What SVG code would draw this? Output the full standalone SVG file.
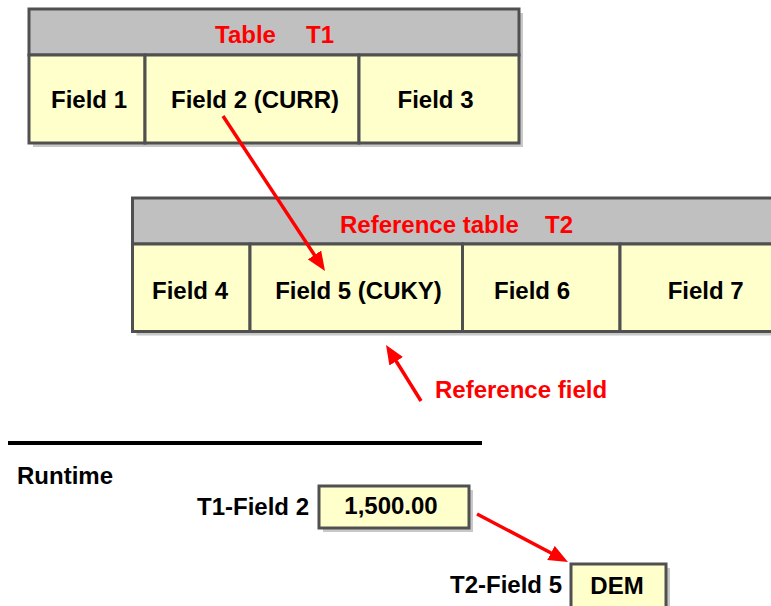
<svg xmlns="http://www.w3.org/2000/svg" width="771" height="606" viewBox="0 0 771 606">
  <style>
    .shadow { fill: #C8C8C8; }
    .hdr { fill: #C0C0C0; stroke: #505050; stroke-width: 3; }
    .cell { fill: #FFFFCC; stroke: #505050; stroke-width: 3; }
    .t { font-family: "Liberation Sans", Arial, sans-serif; font-weight: bold; font-size: 24px; fill: #000; }
    .red { fill: #FF0000; }
    .mid { text-anchor: middle; }
    .end { text-anchor: end; }
    .arrow { stroke: #FF0000; stroke-width: 3.5; fill: none; marker-end: url(#ah); }
  </style>
  <defs>
    <marker id="ah" markerUnits="strokeWidth" markerWidth="5.5" markerHeight="4.6" refX="0.5" refY="2.3" orient="auto">
      <path d="M0,0 L5.5,2.3 L0,4.6 z" fill="#FF0000"/>
    </marker>
  </defs>
  <rect width="771" height="606" fill="#FFFFFF"/>

  <g id="table-t1">
    <rect class="shadow" x="33" y="13" width="490" height="134"/>
    <rect class="hdr" x="29" y="9" width="490" height="46"/>
    <rect class="cell" x="29" y="55" width="116" height="88"/>
    <rect class="cell" x="145" y="55" width="214" height="88"/>
    <rect class="cell" x="359" y="55" width="160" height="88"/>
    <text class="t red" y="43"><tspan x="215">Table</tspan><tspan x="306">T1</tspan></text>
    <text class="t mid" x="89" y="108">Field 1</text>
    <text class="t mid" x="255" y="108">Field 2 (CURR)</text>
    <text class="t mid" x="435.5" y="108">Field 3</text>
  </g>

  <g id="table-t2">
    <rect class="shadow" x="136.5" y="202" width="660" height="133.5"/>
    <rect class="hdr" x="132.5" y="198" width="660" height="46"/>
    <rect class="cell" x="132.5" y="244" width="117.5" height="87.5"/>
    <rect class="cell" x="250" y="244" width="212.5" height="87.5"/>
    <rect class="cell" x="462.5" y="244" width="157.5" height="87.5"/>
    <rect class="cell" x="620" y="244" width="172.5" height="87.5"/>
    <text class="t red" y="233"><tspan x="340">Reference table</tspan><tspan x="545">T2</tspan></text>
    <text class="t mid" x="190" y="299">Field 4</text>
    <text class="t mid" x="358.5" y="299">Field 5 (CUKY)</text>
    <text class="t mid" x="532" y="299">Field 6</text>
    <text class="t mid" x="705.7" y="299">Field 7</text>
  </g>

  <g id="label-reference-field">
    <text class="t red" x="435" y="398">Reference field</text>
  </g>

  <g id="separator">
    <rect x="8" y="441" width="474" height="4" fill="#000"/>
    <text class="t" x="17" y="484">Runtime</text>
  </g>

  <g id="value-t1-field2">
    <text class="t end" x="309" y="515">T1-Field 2</text>
    <rect class="shadow" x="323" y="490" width="150" height="42"/>
    <rect class="cell" x="319" y="486" width="150" height="42"/>
    <text class="t mid" x="391" y="514">1,500.00</text>
  </g>

  <g id="value-t2-field5">
    <text class="t end" x="562" y="593">T2-Field 5</text>
    <rect class="shadow" x="575" y="568" width="95" height="50"/>
    <rect class="cell" x="571" y="564" width="95" height="50"/>
    <text class="t mid" x="617" y="594">DEM</text>
  </g>

  <g id="connectors">
    <line class="arrow" x1="223" y1="116" x2="315.4" y2="256.4"/>
    <line class="arrow" x1="421" y1="401" x2="395.3" y2="359.8"/>
    <line class="arrow" x1="477" y1="514" x2="552.5" y2="553.8"/>
  </g>
</svg>
